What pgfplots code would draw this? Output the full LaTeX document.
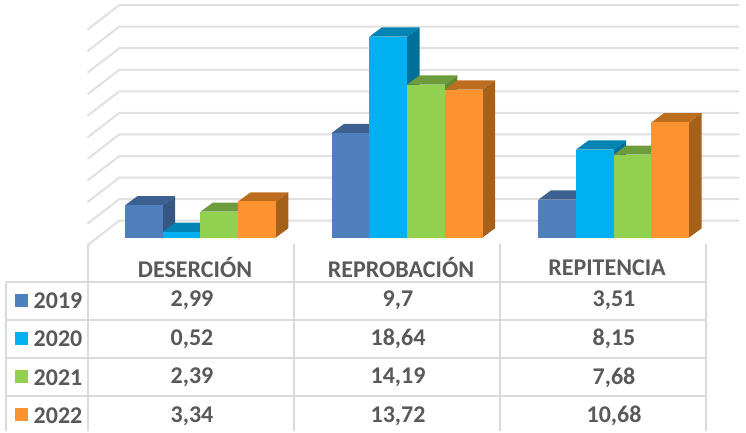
\documentclass[border=0pt]{standalone}
\usepackage{pgfplots}
\pgfplotsset{compat=1.18}
\usepackage{fontspec}
\setmainfont{Carlito}
\definecolor{gridc}{HTML}{E0E0E0}
\definecolor{tabc}{HTML}{DADADA}
\definecolor{txtc}{HTML}{595959}
\definecolor{af}{HTML}{4F80BD}\definecolor{at}{HTML}{3C618F}\definecolor{as}{HTML}{365782}
\definecolor{bf}{HTML}{00B0F0}\definecolor{bt}{HTML}{0084B4}\definecolor{bs}{HTML}{00709A}
\definecolor{cf}{HTML}{92D050}\definecolor{ct}{HTML}{6D9C3C}\definecolor{cs}{HTML}{5F8A33}
\definecolor{df}{HTML}{FD9330}\definecolor{dt}{HTML}{BC6D20}\definecolor{ds}{HTML}{A5601A}
% left edge, value, colour stem
\newcommand{\barthree}[3]{%
  \pgfmathsetmacro\xa{#1}%
  \pgfmathsetmacro\xb{#1+37.7}%
  \pgfmathsetmacro\xc{#1+50.2}%
  \pgfmathsetmacro\xd{#1+12.5}%
  \pgfmathsetmacro\xm{#1+18.85}%
  \pgfmathsetmacro\vt{#2+0.85}%
  \addplot[fill=#3s,draw=none] coordinates {(\xb,0) (\xc,0.85) (\xc,\vt) (\xb,#2)} --cycle;
  \addplot[fill=#3t,draw=none] coordinates {(\xa,#2) (\xb,#2) (\xc,\vt) (\xd,\vt)} --cycle;
  \addplot[ybar,bar width=37.7,fill=#3f,draw=none] coordinates {(\xm,#2)};
}
\begin{document}
\begin{tikzpicture}
\begin{axis}[
  at={(0,0)},anchor=south west,
  x=1pt,y=10.78pt,
  xmin=0,xmax=746,ymin=-17.95,ymax=22.03,
  hide axis,clip=false]
% gridlines on the wall, value v
\pgfplotsforeachungrouped \v in {0,2,...,20}{
  \pgfmathsetmacro\yb{\v+1.558}
  \pgfmathsetmacro\yf{\v+1.558-2.27}
  \addplot[gridc,line width=2pt] coordinates {(87.5,\yf) (119.3,\yb) (739,\yb)};
}
% DESERCION
\barthree{125}{2.99}{a}
\barthree{162.7}{0.52}{b}
\barthree{200.4}{2.39}{c}
\barthree{238.1}{3.34}{d}
% REPROBACION
\barthree{331.7}{9.7}{a}
\barthree{369.4}{18.64}{b}
\barthree{407.1}{14.19}{c}
\barthree{444.8}{13.72}{d}
% REPITENCIA
\barthree{538.3}{3.51}{a}
\barthree{576}{8.15}{b}
\barthree{613.7}{7.68}{c}
\barthree{651.4}{10.68}{d}
% legend keys
\addplot[only marks,mark=square*,mark size=6pt,af,mark options={solid,draw=af,fill=af,line width=0pt}] coordinates {(21,-5.8)};
\addplot[only marks,mark=square*,mark size=6pt,bf,mark options={solid,draw=bf,fill=bf,line width=0pt}] coordinates {(21,-9.33)};
\addplot[only marks,mark=square*,mark size=6pt,cf,mark options={solid,draw=cf,fill=cf,line width=0pt}] coordinates {(21,-12.86)};
\addplot[only marks,mark=square*,mark size=6pt,df,mark options={solid,draw=df,fill=df,line width=0pt}] coordinates {(21,-16.42)};
\end{axis}
\begin{scope}[x=1pt,y=-1pt,shift={(0,431pt)}]
  \draw[tabc,line width=2pt] (88,244)--(88,431) (294,244)--(294,431) (500,244)--(500,431) (705.7,244)--(705.7,431);
  \draw[tabc,line width=2pt] (6,282.3)--(705.7,282.3) (6,320)--(705.7,320) (6,358.3)--(705.7,358.3) (6,396.3)--(705.7,396.3) (6,282.3)--(6,431);
  \tikzset{t/.style={text=txtc,font=\fontsize{24}{24}\selectfont\bfseries,inner sep=0pt,anchor=center}}
  \node[t] at (195,268) {DESERCIÓN};
  \node[t] at (401,268) {REPROBACIÓN};
  \node[t] at (607,268) {REPITENCIA};
  \foreach \yy/\yr/\a/\b/\c in {300.5/2019/{2,99}/{9,7}/{3,51},339/2020/{0,52}/{18,64}/{8,15},377.5/2021/{2,39}/{14,19}/{7,68},416/2022/{3,34}/{13,72}/{10,68}}{
    \node[t] at (58,\yy) {\yr};
    \node[t] at (192,\yy) {\a};
    \node[t] at (398,\yy) {\b};
    \node[t] at (614,\yy) {\c};
  }
\end{scope}
\path[use as bounding box] (0,0) rectangle (746pt,431pt);
\end{tikzpicture}
\end{document}
